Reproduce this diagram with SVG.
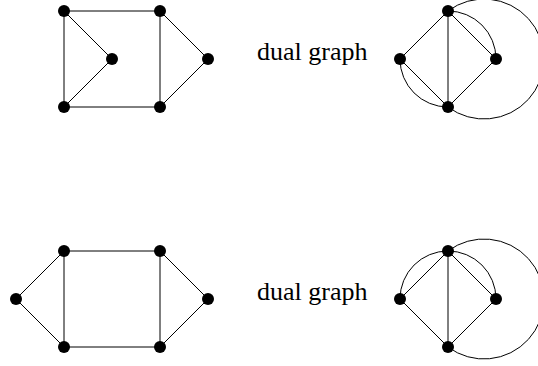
<svg xmlns="http://www.w3.org/2000/svg" width="538" height="366" viewBox="0 0 538 366">
<style>
.e{stroke:#000;stroke-width:1;fill:none}
.n{fill:#000}
.t{font-family:"Liberation Serif","Times New Roman",serif;font-size:26px;fill:#000}
</style>
<rect width="538" height="366" fill="#fff"/>
<g id="connectors">
<!-- top primal -->
<line class="e" x1="64" y1="11" x2="160" y2="11"/>
<line class="e" x1="64" y1="107" x2="160" y2="107"/>
<line class="e" x1="64" y1="11" x2="64" y2="107"/>
<line class="e" x1="160" y1="11" x2="160" y2="107"/>
<line class="e" x1="64" y1="11" x2="112" y2="59"/>
<line class="e" x1="64" y1="107" x2="112" y2="59"/>
<line class="e" x1="160" y1="11" x2="208" y2="59"/>
<line class="e" x1="160" y1="107" x2="208" y2="59"/>
<!-- top dual -->
<line class="e" x1="448" y1="11" x2="448" y2="107"/>
<line class="e" x1="448" y1="11" x2="400" y2="59"/>
<line class="e" x1="448" y1="11" x2="496" y2="59"/>
<line class="e" x1="448" y1="107" x2="400" y2="59"/>
<line class="e" x1="448" y1="107" x2="496" y2="59"/>
<path class="e" d="M448,11 A48,48 0 0 1 496,59"/>
<path class="e" d="M400,59 A48,48 0 0 0 448,107"/>
<path class="e" d="M448,11 A60,60 0 1 1 448,107"/>
<!-- bottom primal -->
<line class="e" x1="64" y1="251" x2="160" y2="251"/>
<line class="e" x1="64" y1="347" x2="160" y2="347"/>
<line class="e" x1="64" y1="251" x2="64" y2="347"/>
<line class="e" x1="160" y1="251" x2="160" y2="347"/>
<line class="e" x1="64" y1="251" x2="16" y2="299"/>
<line class="e" x1="64" y1="347" x2="16" y2="299"/>
<line class="e" x1="160" y1="251" x2="208" y2="299"/>
<line class="e" x1="160" y1="347" x2="208" y2="299"/>
<!-- bottom dual -->
<line class="e" x1="448" y1="251" x2="448" y2="347"/>
<line class="e" x1="448" y1="251" x2="400" y2="299"/>
<line class="e" x1="448" y1="251" x2="496" y2="299"/>
<line class="e" x1="448" y1="347" x2="400" y2="299"/>
<line class="e" x1="448" y1="347" x2="496" y2="299"/>
<path class="e" d="M448,251 A48,48 0 0 1 496,299"/>
<path class="e" d="M448,251 A48,48 0 0 0 400,299"/>
<path class="e" d="M448,251 A60,60 0 1 1 448,347"/>
</g>
<g id="n1"><circle class="n" cx="64" cy="11" r="6"/></g>
<g id="n2"><circle class="n" cx="160" cy="11" r="6"/></g>
<g id="n3"><circle class="n" cx="112" cy="59" r="6"/></g>
<g id="n4"><circle class="n" cx="208" cy="59" r="6"/></g>
<g id="n5"><circle class="n" cx="64" cy="107" r="6"/></g>
<g id="n6"><circle class="n" cx="160" cy="107" r="6"/></g>
<g id="d1"><circle class="n" cx="448" cy="11" r="6"/></g>
<g id="d2"><circle class="n" cx="400" cy="59" r="6"/></g>
<g id="d3"><circle class="n" cx="496" cy="59" r="6"/></g>
<g id="d4"><circle class="n" cx="448" cy="107" r="6"/></g>
<g id="m1"><circle class="n" cx="64" cy="251" r="6"/></g>
<g id="m2"><circle class="n" cx="160" cy="251" r="6"/></g>
<g id="m3"><circle class="n" cx="16" cy="299" r="6"/></g>
<g id="m4"><circle class="n" cx="208" cy="299" r="6"/></g>
<g id="m5"><circle class="n" cx="64" cy="347" r="6"/></g>
<g id="m6"><circle class="n" cx="160" cy="347" r="6"/></g>
<g id="e1"><circle class="n" cx="448" cy="251" r="6"/></g>
<g id="e2"><circle class="n" cx="400" cy="299" r="6"/></g>
<g id="e3"><circle class="n" cx="496" cy="299" r="6"/></g>
<g id="e4"><circle class="n" cx="448" cy="347" r="6"/></g>
<g id="label1"><text class="t" x="257" y="60">dual graph</text></g>
<g id="label2"><text class="t" x="257" y="300">dual graph</text></g>
</svg>
